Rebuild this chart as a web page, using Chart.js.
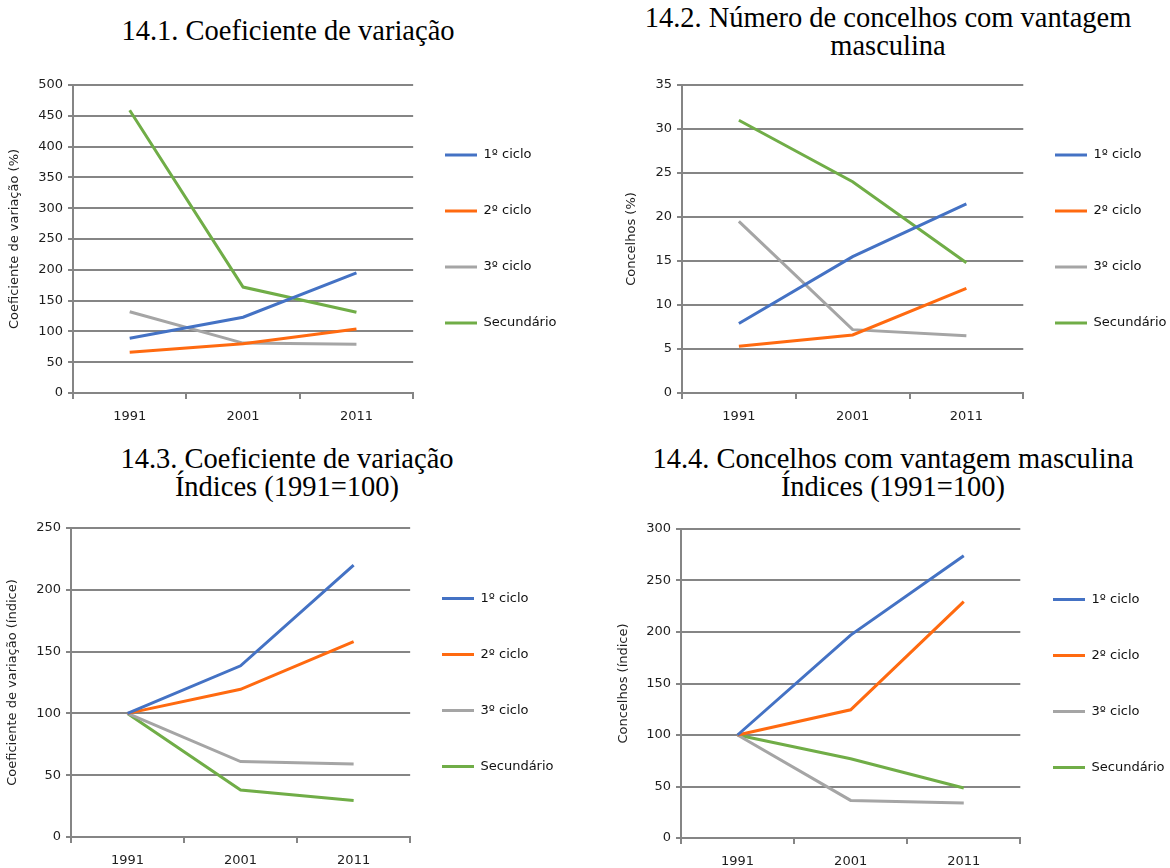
<!DOCTYPE html>
<html><head><meta charset="utf-8">
<script src="https://cdn.jsdelivr.net/npm/chart.js@4/dist/chart.umd.min.js"></script>
<style>
html,body{margin:0;padding:0;background:#fff;overflow:hidden}
body{width:1170px;height:868px;position:relative}
.t{position:absolute;font-family:"Liberation Serif","Times New Roman",serif;font-size:28.5px;line-height:28px;color:#000;text-align:center;white-space:nowrap;transform:translateX(-50%)}
canvas{position:absolute}
</style></head><body>
<div class="t" style="left:288px;top:17px">14.1. Coeficiente de variação</div>
<div class="t" style="left:888px;top:4px">14.2. Número de concelhos com vantagem<br>masculina</div>
<div class="t" style="left:287px;top:445px">14.3. Coeficiente de variação<br>Índices (1991=100)</div>
<div class="t" style="left:893px;top:445px">14.4. Concelhos com vantagem masculina<br>Índices (1991=100)</div>
<canvas id="c1" width="640" height="375" style="left:0;top:60px"></canvas>
<canvas id="c2" width="640" height="375" style="left:590px;top:60px"></canvas>
<canvas id="c3" width="640" height="368" style="left:0;top:500px"></canvas>
<canvas id="c4" width="640" height="368" style="left:590px;top:500px"></canvas>
<script>
// ---- data ----
const years = ['1991', '2001', '2011'];
const seriesNames = ['1º ciclo', '2º ciclo', '3º ciclo', 'Secundário'];
const seriesColors = ['#4472C4', '#FF6A10', '#A5A5A5', '#70AD47'];

// 14.1 Coeficiente de variação (%)
const cv1Ciclo = [89, 123, 195];
const cv2Ciclo = [66, 80, 104];
const cv3Ciclo = [132, 81, 79];
const cvSecundario = [459, 172, 131];

// 14.2 Concelhos com vantagem masculina (%)
const cm1Ciclo = [7.9, 15.5, 21.5];
const cm2Ciclo = [5.3, 6.6, 11.9];
const cm3Ciclo = [19.5, 7.2, 6.5];
const cmSecundario = [31.0, 24.0, 14.8];

// 14.3 Coeficiente de variação, índices (1991=100)
const icv1Ciclo = [100, 138.5, 220];
const icv2Ciclo = [100, 119.5, 158];
const icv3Ciclo = [100, 61, 59];
const icvSecundario = [100, 38, 29.5];

// 14.4 Concelhos com vantagem masculina, índices (1991=100)
const icm1Ciclo = [100, 197, 274];
const icm2Ciclo = [100, 124.5, 229.5];
const icm3Ciclo = [100, 36.5, 34];
const icmSecundario = [100, 77, 48.5];

// ---- chart builder ----
const GRID = '#858585';
const TXT = '#1e1e1e';
const FAMILY = '"DejaVu Sans", Verdana, sans-serif';
const tickFont = {family: FAMILY, size: 13};
const LEG_PAD = 43;

function build(id, series, yMax, yStep, yTitle, titlePad, area, legendX) {
  const padding = {top: area.top, right: 40, bottom: 0, left: 0};
  const canvas = document.getElementById(id);
  const cfg = {
    type: 'line',
    data: {
      labels: years,
      datasets: series.map((d, i) => ({
        label: seriesNames[i],
        data: d,
        borderColor: seriesColors[i],
        backgroundColor: seriesColors[i],
        borderWidth: 3,
        pointRadius: 0,
        pointStyle: 'line',
        tension: 0,
        fill: false
      }))
    },
    options: {
      responsive: false,
      devicePixelRatio: 1,
      animation: false,
      events: [],
      layout: {padding: padding},
      scales: {
        x: {
          offset: true,
          grid: {offset: true, drawOnChartArea: false, tickLength: 6, color: GRID, lineWidth: 2},
          border: {display: true, color: GRID, width: 2},
          ticks: {font: tickFont, color: TXT, padding: 10},
          afterFit: s => { s.height = canvas.height - area.bottom; }
        },
        y: {
          min: 0, max: yMax,
          grid: {color: GRID, lineWidth: 2, tickLength: 5},
          border: {display: true, color: GRID, width: 2},
          ticks: {stepSize: yStep, font: tickFont, color: TXT, padding: 5},
          title: {display: true, text: yTitle, color: TXT,
                  font: {family: FAMILY, size: 13},
                  padding: {top: titlePad, bottom: 0}},
          afterFit: s => { s.width = area.left; }
        }
      },
      plugins: {
        title: {display: false},
        tooltip: {enabled: false},
        legend: {
          position: 'right',
          fullSize: false,
          align: 'center',
          labels: {
            usePointStyle: true,
            pointStyle: 'line',
            pointStyleWidth: 32,
            boxHeight: 13,
            padding: LEG_PAD,
            color: '#111',
            font: {family: FAMILY, size: 13}
          }
        }
      }
    },
    plugins: [{
      id: 'legendShift',
      afterLayout(chart) {
        const lg = chart.legend;
        if (!lg) return;
        const dx = legendX - (lg.left + LEG_PAD);
        lg.left += dx;
        lg.right = chart.width;
      }
    }]
  };
  const chart = new Chart(canvas, cfg);
  for (let k = 0; k < 4; k++) {
    const a = chart.chartArea;
    const dt = area.top - a.top, db = a.bottom - area.bottom, dr = a.right - area.right;
    if (Math.abs(dt) < 0.5 && Math.abs(db) < 0.5 && Math.abs(dr) < 0.5) break;
    padding.top += dt; padding.bottom += db; padding.right += dr;
    chart.update('none');
  }
  return chart;
}

build('c1', [cv1Ciclo, cv2Ciclo, cv3Ciclo, cvSecundario], 500, 50,
      'Coeficiente de variação (%)', 7,
      {left: 73, top: 25, right: 413, bottom: 333}, 445);
build('c2', [cm1Ciclo, cm2Ciclo, cm3Ciclo, cmSecundario], 35, 5,
      'Concelhos (%)', 34,
      {left: 92, top: 25, right: 433, bottom: 333}, 465);
build('c3', [icv1Ciclo, icv2Ciclo, icv3Ciclo, icvSecundario], 250, 50,
      'Coeficiente de variação (índice)', 5,
      {left: 71, top: 28, right: 410, bottom: 337}, 442);
build('c4', [icm1Ciclo, icm2Ciclo, icm3Ciclo, icmSecundario], 300, 50,
      'Concelhos (índice)', 26,
      {left: 91, top: 29, right: 430, bottom: 338}, 463);
</script>
</body></html>
